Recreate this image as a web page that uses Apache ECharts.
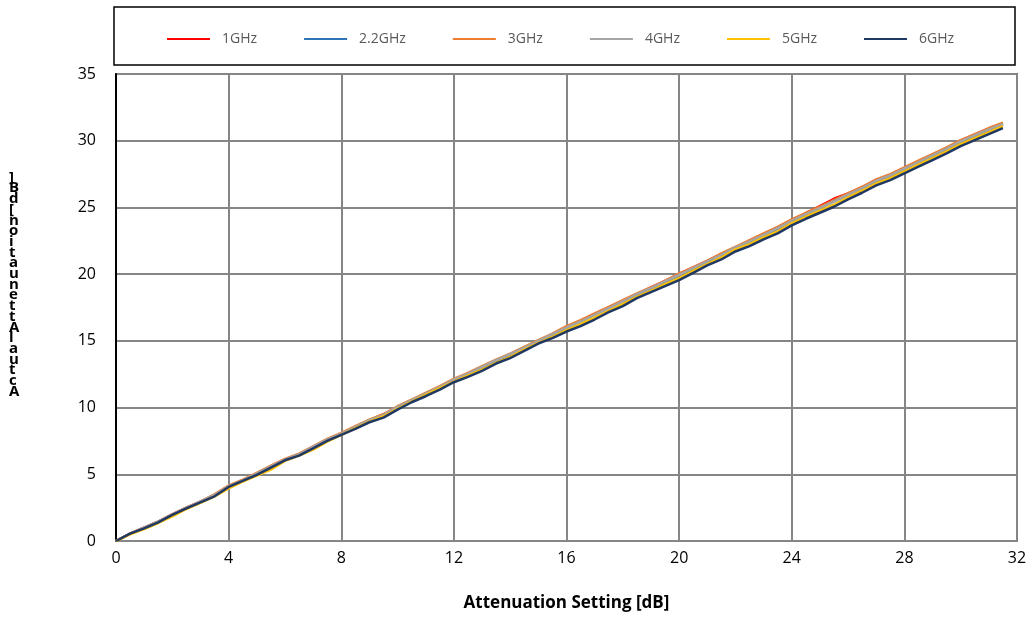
<!DOCTYPE html>
<html>
<head>
<meta charset="utf-8">
<script src="https://cdn.jsdelivr.net/npm/echarts@6/dist/echarts.min.js"></script>
<style>html,body{margin:0;padding:0;background:#fff}#c{width:1032px;height:617px}</style>
</head>
<body>
<div id="c"></div>
<script>
// Attenuation setting (dB), x positions
const settings = [0,0.5,1,1.5,2,2.5,3,3.5,4,4.5,5,5.5,6,6.5,7,7.5,8,8.5,9,9.5,10,10.5,11,11.5,12,12.5,13,13.5,14,14.5,15,15.5,16,16.5,17,17.5,18,18.5,19,19.5,20,20.5,21,21.5,22,22.5,23,23.5,24,24.5,25,25.5,26,26.5,27,27.5,28,28.5,29,29.5,30,30.5,31,31.5];
const seriesNames = ['1GHz','2.2GHz','3GHz','4GHz','5GHz','6GHz'];
const xTicks = [0,4,8,12,16,20,24,28,32];
const yTicks = [0,5,10,15,20,25,30,35];

const att1GHz = [0,0.55,1.0,1.45,2.0,2.5,2.95,3.45,4.1,4.55,5.05,5.6,6.1,6.5,7.05,7.6,8.05,8.55,9.05,9.5,10.05,10.55,11.05,11.55,12.1,12.55,13.05,13.55,14.0,14.5,15.0,15.5,16.05,16.5,17.0,17.5,18.0,18.5,19.0,19.5,20.0,20.5,21.0,21.5,22.0,22.5,23.0,23.5,24.05,24.55,25.1,25.65,26.05,26.5,27.05,27.45,27.95,28.45,28.95,29.45,30.0,30.45,30.9,31.3];
const att2GHz = [0,0.55,1.0,1.45,1.95,2.45,2.95,3.45,4.1,4.5,5.0,5.55,6.05,6.5,7.0,7.55,8.0,8.5,9.0,9.45,10.0,10.5,11.0,11.5,12.05,12.5,13.0,13.5,13.95,14.45,14.95,15.45,15.95,16.45,16.95,17.45,17.95,18.45,18.9,19.4,19.9,20.4,20.9,21.4,21.95,22.4,22.9,23.4,23.95,24.45,24.95,25.45,25.95,26.4,26.95,27.35,27.85,28.35,28.85,29.35,29.9,30.35,30.8,31.2];
const att3GHz = [0,0.55,1.0,1.45,2.0,2.5,2.95,3.5,4.15,4.6,5.1,5.65,6.15,6.55,7.1,7.65,8.1,8.6,9.1,9.5,10.1,10.6,11.1,11.6,12.15,12.6,13.1,13.6,14.05,14.55,15.05,15.55,16.1,16.55,17.05,17.55,18.05,18.55,19.0,19.5,20.05,20.5,21.0,21.55,22.05,22.55,23.05,23.55,24.1,24.6,25.05,25.55,26.05,26.55,27.1,27.5,28.0,28.5,29.0,29.5,30.05,30.5,30.95,31.35];
const att4GHz = [0,0.55,1.0,1.45,2.0,2.5,2.95,3.45,4.1,4.55,5.05,5.6,6.1,6.5,7.05,7.6,8.05,8.55,9.05,9.45,10.05,10.55,11.05,11.55,12.1,12.55,13.05,13.55,14.0,14.5,15.0,15.5,16.0,16.45,16.95,17.45,17.95,18.5,18.95,19.45,19.95,20.45,20.95,21.45,22.0,22.45,22.95,23.45,24.0,24.5,24.95,25.45,25.95,26.45,27.0,27.4,27.9,28.4,28.9,29.4,29.95,30.4,30.85,31.25];
const att5GHz = [0,0.5,0.9,1.35,1.85,2.4,2.85,3.35,3.95,4.45,4.9,5.35,6.0,6.4,6.85,7.45,7.95,8.45,8.95,9.35,9.9,10.45,10.95,11.45,11.95,12.4,12.85,13.35,13.8,14.35,14.85,15.3,15.8,16.25,16.75,17.25,17.75,18.3,18.75,19.25,19.7,20.25,20.75,21.25,21.85,22.25,22.75,23.2,23.8,24.3,24.75,25.2,25.75,26.25,26.8,27.2,27.7,28.2,28.7,29.2,29.75,30.2,30.65,31.1];
const att6GHz = [0,0.55,0.95,1.4,1.95,2.45,2.9,3.35,4.05,4.5,4.95,5.5,6.05,6.4,6.95,7.5,7.95,8.4,8.9,9.25,9.85,10.4,10.85,11.35,11.9,12.3,12.75,13.3,13.7,14.25,14.8,15.2,15.7,16.1,16.6,17.15,17.6,18.2,18.65,19.1,19.55,20.1,20.65,21.1,21.7,22.1,22.6,23.05,23.65,24.15,24.6,25.05,25.6,26.1,26.65,27.05,27.55,28.05,28.55,29.05,29.6,30.05,30.5,30.95];
const yTitle = 'Actual Attenuation [dB]';

const allValues = [att1GHz, att2GHz, att3GHz, att4GHz, att5GHz, att6GHz];
const colors = ['#FF0000','#2E75B6','#ED7D31','#A5A5A5','#FFC000','#1F3864'];

const chart = echarts.init(document.getElementById('c'));
const stacked = yTitle.replace(/ /g,'').split('').reverse().join('\n');

chart.setOption({
  animation: false,
  backgroundColor: '#fff',
  color: colors,
  textStyle: { fontFamily: 'Open Sans, sans-serif' },
  grid: { left: 116, right: 15, top: 74, bottom: 75, show: true, borderColor: '#000', borderWidth: 1.5, containLabel: false },
  legend: {
    top: 27, left: 162,
    itemWidth: 43, itemHeight: 2, itemGap: 47,
    icon: 'rect',
    textStyle: { color: '#595959', fontSize: 14, padding: [0,0,0,7], fontFamily: 'Open Sans, sans-serif' },
    data: seriesNames
  },
  xAxis: {
    type: 'value', min: 0, max: 32, interval: 4,
    axisLine: { show: true, lineStyle: { color: '#868686', width: 2 } },
    axisTick: { show: false },
    splitLine: { show: true, lineStyle: { color: '#868686', width: 2 } },
    axisLabel: { color: '#000', fontSize: 16, margin: 9, fontFamily: 'Open Sans, sans-serif' },
    name: 'Attenuation Setting [dB]', nameLocation: 'middle', nameGap: 54,
    nameTextStyle: { fontWeight: 'bold', fontSize: 17, color: '#000', fontFamily: 'Open Sans, sans-serif' }
  },
  yAxis: {
    type: 'value', min: 0, max: 35, interval: 5,
    axisLine: { show: true, lineStyle: { color: '#000', width: 2 } },
    axisTick: { show: false },
    splitLine: { show: true, lineStyle: { color: '#868686', width: 2 } },
    axisLabel: { color: '#000', fontSize: 16, margin: 20, fontFamily: 'Open Sans, sans-serif' }
  },
  graphic: [
    { type: 'rect', shape: { x: 114, y: 7, width: 901, height: 58 }, style: { fill: 'none', stroke: '#000', lineWidth: 1.5 }, silent: true },
    { type: 'text', left: 9, top: 170, style: { text: stacked, font: 'bold 15px Open Sans, sans-serif', fill: '#000', lineHeight: 10.7, align: 'center' } }
  ],
  series: seriesNames.map((n, i) => ({
    name: n, type: 'line', symbol: 'none', smooth: false,
    lineStyle: { width: 2.5, color: colors[i] },
    data: settings.map((x, j) => [x, allValues[i][j]])
  }))
});
</script>
</body>
</html>
